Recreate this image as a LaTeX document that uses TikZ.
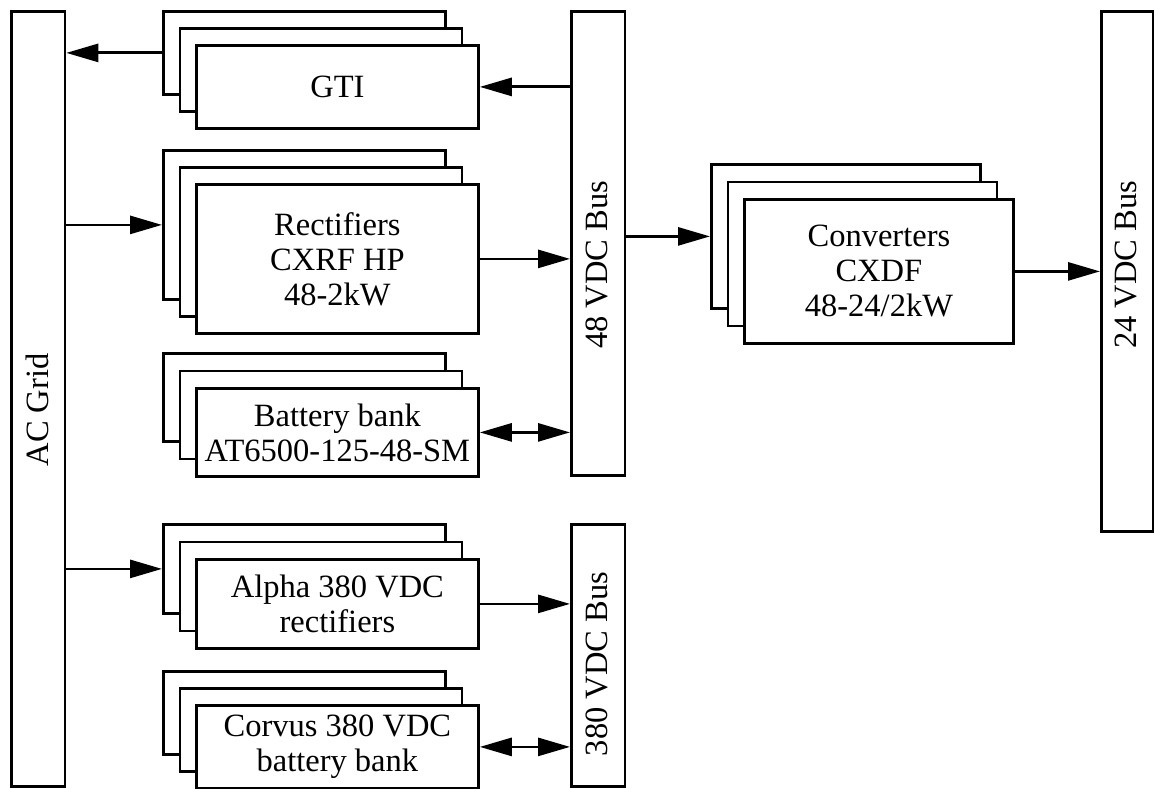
\documentclass[tikz,border=0pt]{standalone}
\usepackage{fontspec}
\setmainfont{Liberation Serif}
\usetikzlibrary{arrows.meta}
\newcommand\mystack[8]{%
  \node[box,minimum width=#4pt,minimum height=#5pt] (#1B) at (#2,#3) {};
  \node[box,minimum width=#4pt,minimum height=#5pt] (#1M) at ({#2+#6},{#3+#7}) {};
  \node[box,minimum width=#4pt,minimum height=#5pt] (#1F) at ({#2+2*#6},{#3+2*#7}) {#8};
}
\begin{document}
\begin{tikzpicture}[x=1pt,y=-1pt,
  font=\fontsize{32.5}{35}\selectfont,
  box/.style={draw,line width=2.8pt,fill=white,inner sep=0pt,anchor=north west,align=center},
  bus/.style={draw,line width=2.8pt,fill=white,inner sep=0pt,anchor=north west},
  buslabel/.style={rotate=90,inner sep=0pt},
  arr/.style={line width=2.8pt,-{Triangle[length=32pt,width=18pt]}},
  darr/.style={line width=2.8pt,{Triangle[length=32pt,width=18pt]}-{Triangle[length=32pt,width=18pt]}}]
\useasboundingbox (0,0) rectangle (1154,789);
% buses
\node[bus,minimum width=53.5pt,minimum height=775pt] (ac) at (10,10) {};
\node[bus,minimum width=53.5pt,minimum height=464pt] (b48) at (570,10) {};
\node[bus,minimum width=53.5pt,minimum height=262pt] (b380) at (570,523) {};
\node[bus,minimum width=52pt,minimum height=520pt] (b24) at (1100,10) {};
\node[buslabel] (acl) at (37,410) {AC Grid};
\node[buslabel] (b48l) at (597,265) {48 VDC Bus};
\node[buslabel] (b380l) at (597,664) {380 VDC Bus};
\node[buslabel] (b24l) at (1126,265) {24 VDC Bus};
% stacks
\mystack{gti}{162}{10}{282}{83}{16.5}{17}{GTI}
\mystack{rec}{162}{149}{282}{149}{16.5}{17}{Rectifiers\\CXRF HP\\48-2kW}
\mystack{bat}{162}{352}{282}{88}{16.5}{17.5}{Battery bank\\AT6500-125-48-SM}
\mystack{alp}{162}{523}{282}{89}{16.5}{17.5}{Alpha 380 VDC\\rectifiers}
\mystack{cor}{162}{670}{282}{83}{16.5}{17}{Corvus 380 VDC\\battery bank}
\mystack{con}{710}{163}{269}{144}{16.5}{17.5}{Converters\\CXDF\\48-24/2kW}
% connectors
\draw[arr] (gtiB.west) -- (gtiB.west -| ac.east);
\draw[arr] (gtiF.east -| b48.west) -- (gtiF.east);
\draw[arr] (recB.west -| ac.east) -- (recB.west);
\draw[arr] (recF.east) -- (recF.east -| b48.west);
\draw[darr] (batF.east) -- (batF.east -| b48.west);
\draw[arr] (alpB.west -| ac.east) -- (alpB.west);
\draw[arr] (alpF.east) -- (alpF.east -| b380.west);
\draw[darr] (corF.east) -- (corF.east -| b380.west);
\draw[arr] (conB.west -| b48.east) -- (conB.west);
\draw[arr] (conF.east) -- (conF.east -| b24.west);
\end{tikzpicture}
\end{document}
